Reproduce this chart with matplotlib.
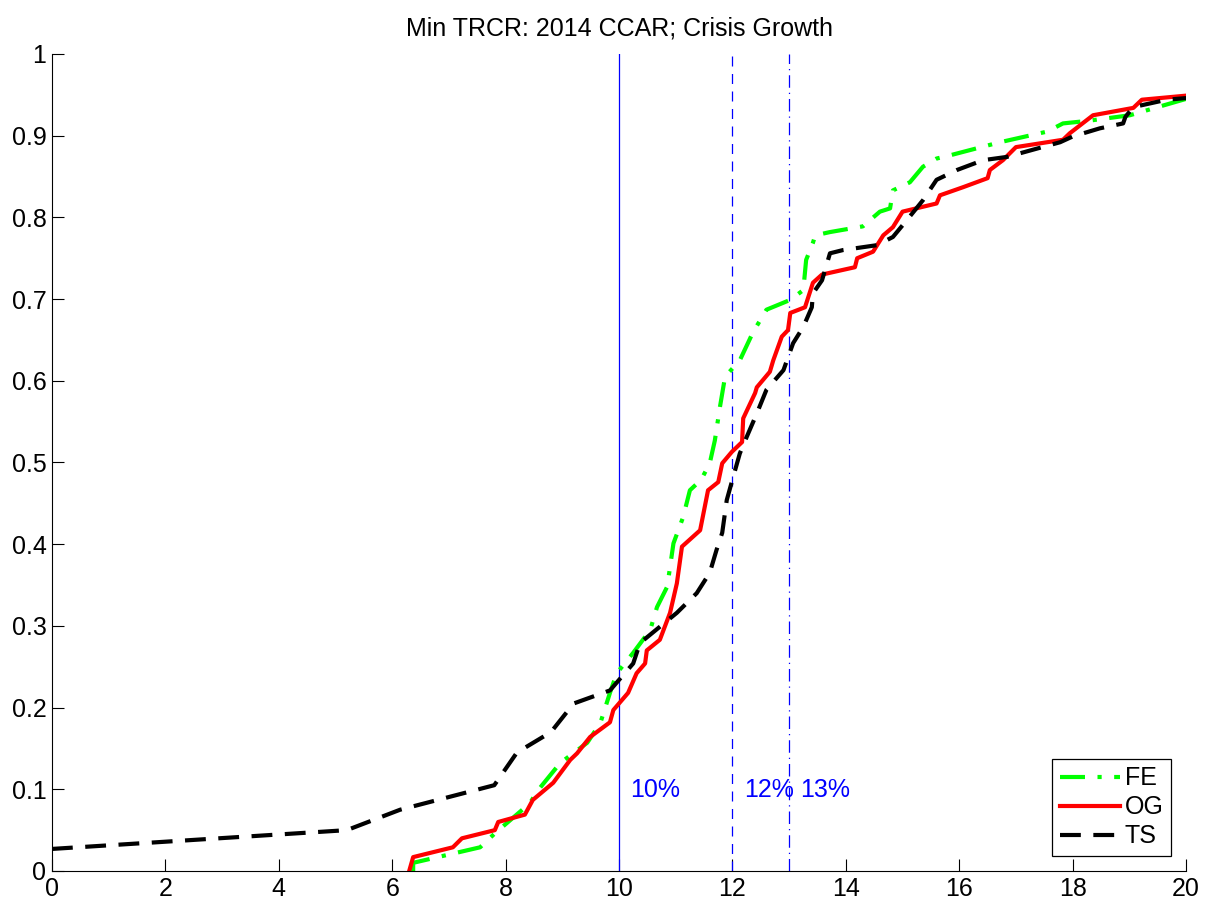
import numpy as np
import matplotlib.pyplot as plt

plt.rcParams['font.family'] = ['Liberation Sans', 'DejaVu Sans']

# FE curve (x = min TRCR, y = cumulative share)
fe_x = [6.37, 6.37, 7.55, 7.81, 8.43, 8.55, 8.96, 9.44, 9.67, 9.84, 9.96, 10.25, 10.55,
        10.67, 10.85, 10.96, 11.13, 11.25, 11.45, 11.6, 11.69, 11.78, 11.87, 12.13,
        12.36, 12.6, 13.02, 13.25, 13.3, 13.42, 13.46, 13.72, 14.3, 14.6, 14.78, 14.83,
        15.13, 15.36, 15.6, 15.84, 16.72, 17.55, 17.83, 18.25, 19.01, 19.6, 20.0]
fe_y = [0.0, 0.01, 0.029, 0.046, 0.083, 0.097, 0.132, 0.157, 0.181, 0.218, 0.242, 0.267, 0.295,
        0.323, 0.348, 0.401, 0.433, 0.466, 0.479, 0.499, 0.527, 0.568, 0.605, 0.625,
        0.659, 0.687, 0.699, 0.711, 0.748, 0.769, 0.778, 0.782, 0.789, 0.807, 0.811, 0.833,
        0.843, 0.862, 0.872, 0.876, 0.892, 0.905, 0.915, 0.918, 0.925, 0.937, 0.945]

# OG curve
og_x = [6.3, 6.37, 7.07, 7.23, 7.81, 7.87, 8.34, 8.48, 8.84, 9.14, 9.26, 9.49, 9.84, 9.9,
        10.16, 10.31, 10.46, 10.49, 10.72, 10.9, 11.02, 11.11, 11.43, 11.57, 11.75, 11.82,
        11.99, 12.17, 12.19, 12.4, 12.43, 12.66, 12.72, 12.87, 12.98, 13.02, 13.28, 13.42,
        13.58, 14.16, 14.2, 14.48, 14.66, 14.83, 15.0, 15.6, 15.66, 16.07, 16.5, 16.54,
        16.77, 17.0, 17.83, 17.95, 18.36, 19.07, 19.22, 20.0]
og_y = [0.0, 0.017, 0.029, 0.04, 0.05, 0.06, 0.069, 0.087, 0.108, 0.136, 0.144, 0.164, 0.182, 0.197,
        0.218, 0.242, 0.254, 0.27, 0.283, 0.316, 0.352, 0.397, 0.417, 0.466, 0.476, 0.499,
        0.513, 0.525, 0.554, 0.585, 0.592, 0.611, 0.625, 0.654, 0.662, 0.683, 0.69, 0.72,
        0.73, 0.739, 0.75, 0.758, 0.778, 0.788, 0.807, 0.817, 0.827, 0.837, 0.848, 0.858,
        0.870, 0.886, 0.895, 0.903, 0.925, 0.934, 0.944, 0.949]

# TS curve
ts_x = [0.0, 5.2, 6.14, 7.8, 8.2, 8.8, 9.2, 9.84, 10.25, 10.37, 11.02, 11.37, 11.6, 11.72,
        11.82, 11.9, 12.0, 12.13, 12.25, 12.43, 12.6, 12.9, 13.07, 13.25, 13.4, 13.42,
        13.58, 13.72, 13.95, 14.55, 14.83, 15.08, 15.36, 15.6, 15.96, 16.42, 16.84,
        17.78, 18.0, 18.48, 18.89, 18.93, 19.07, 19.66, 20.0]
ts_y = [0.027, 0.05, 0.075, 0.105, 0.145, 0.17, 0.205, 0.221, 0.254, 0.279, 0.316, 0.34, 0.365, 0.393,
        0.414, 0.454, 0.479, 0.511, 0.531, 0.56, 0.589, 0.613, 0.646, 0.666, 0.69, 0.707,
        0.723, 0.756, 0.76, 0.766, 0.776, 0.797, 0.821, 0.846, 0.858, 0.870, 0.874,
        0.892, 0.899, 0.909, 0.915, 0.923, 0.935, 0.944, 0.946]

thresholds = [10, 12, 13]
threshold_labels = ['10%', '12%', '13%']
threshold_styles = ['-', (0, (8, 6)), (0, (10, 4, 1, 4))]

fig = plt.figure(figsize=(12.14, 9.07), dpi=100)
ax = fig.add_axes([0.0428, 0.0397, 0.9342, 0.9008])

for t, lab, ls in zip(thresholds, threshold_labels, threshold_styles):
    ax.plot([t, t], [0, 1], color='blue', lw=0.9, linestyle=ls)
    ax.text(t + 0.2, 0.099, lab, color='blue', fontsize=18, va='center', ha='left')

ax.plot(fe_x, fe_y, color=(0, 1, 0), lw=3, linestyle=(0, (6, 3, 1, 3)), label='FE')
ax.plot(og_x, og_y, color='red', lw=3, linestyle='-', label='OG')
ax.plot(ts_x, ts_y, color='black', lw=3, linestyle=(0, (5, 3)), label='TS')

ax.set_xlim(0, 20)
ax.set_ylim(0, 1)
ax.set_xticks(np.arange(0, 21, 2))
ax.set_yticks(np.round(np.arange(0, 1.01, 0.1), 1))
ax.set_yticklabels(['0'] + ['%.1f' % v for v in np.arange(0.1, 0.95, 0.1)] + ['1'])
ax.tick_params(direction='in', length=8.5, width=0.8, labelsize=18, pad=4)
ax.spines['top'].set_visible(False)
ax.spines['right'].set_visible(False)

ax.set_title('Min TRCR: 2014 CCAR; Crisis Growth', fontsize=18, pad=13)

leg = ax.legend(loc='lower right', fontsize=18, fancybox=False, edgecolor='black',
                framealpha=1, handlelength=2.4, borderaxespad=0.6, labelspacing=0.2,
                handletextpad=0.2, borderpad=0.3)
leg.get_frame().set_linewidth(0.9)

fig.savefig('out.png', dpi=100)
